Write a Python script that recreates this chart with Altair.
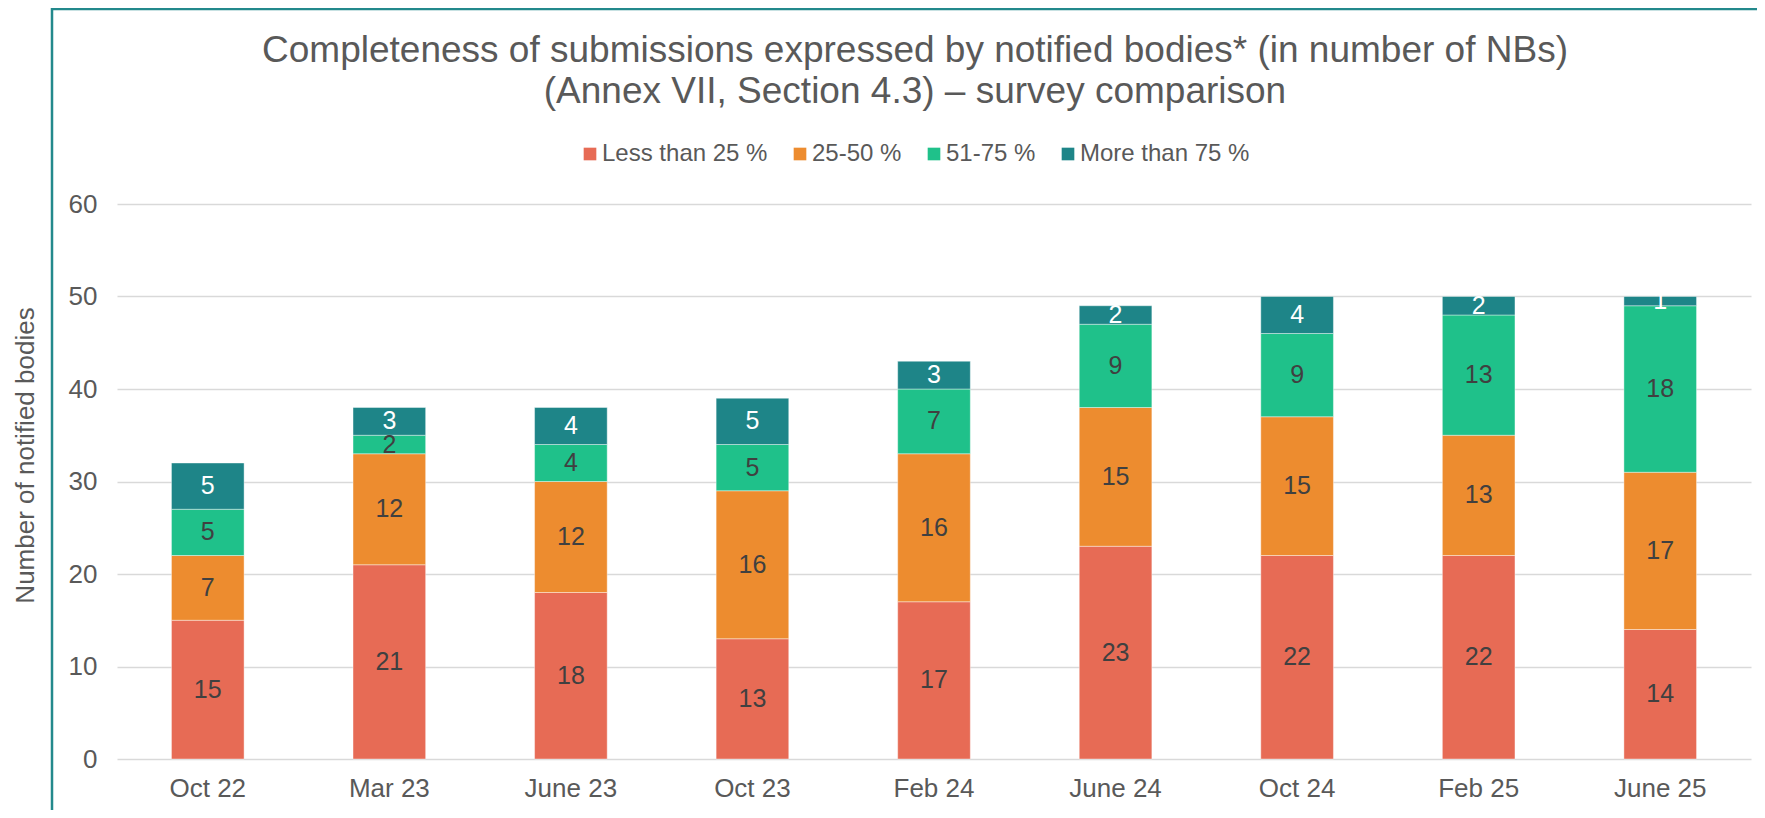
import altair as alt
import pandas as pd

surveys = ["Oct 22", "Mar 23", "June 23", "Oct 23", "Feb 24", "June 24", "Oct 24", "Feb 25", "June 25"]
categories = ["Less than 25 %", "25-50 %", "51-75 %", "More than 75 %"]
less_than_25 = [15, 21, 18, 13, 17, 23, 22, 22, 14]
between_25_50 = [7, 12, 12, 16, 16, 15, 15, 13, 17]
between_51_75 = [5, 2, 4, 5, 7, 9, 9, 13, 18]
more_than_75 = [5, 3, 4, 5, 3, 2, 4, 2, 1]
series = [less_than_25, between_25_50, between_51_75, more_than_75]
colors = ["#E76B55", "#ED8C2F", "#1FC18A", "#1E8588"]
title_lines = [
    "Completeness of submissions expressed by notified bodies* (in number of NBs)",
    "(Annex VII, Section 4.3) \u2013 survey comparison",
]
y_title = "Number of notified bodies"
y_ticks = [0, 10, 20, 30, 40, 50, 60]

rows = []
for ci, (cat, vals) in enumerate(zip(categories, series)):
    for s, v in zip(surveys, vals):
        rows.append({"survey": s, "category": cat, "value": v, "order": ci})
df = pd.DataFrame(rows)

FONT = "Liberation Sans"
GREY = "#595959"
W, H = 1634, 555

x_axis = alt.Axis(
    title=None, labelAngle=0, labelFontSize=26, labelColor=GREY, labelFont=FONT,
    labelPadding=37, labelBaseline="alphabetic", ticks=False, tickSize=0,
    domain=False, grid=False,
)
x_scale = alt.Scale(paddingInner=0.6, paddingOuter=0.3)
y_axis = alt.Axis(
    values=y_ticks, title=y_title, titleFont=FONT, titleFontSize=26,
    titleFontWeight="normal", titleColor=GREY, titleX=-92, titleY=251,
    titleAngle=-90, titleAlign="center", titleBaseline="middle",
    labelFont=FONT, labelFontSize=26, labelColor=GREY, labelPadding=20,
    ticks=False, tickSize=0, domain=False, grid=True,
    gridColor="#D9D9D9", gridWidth=1.5,
)
y_scale = alt.Scale(domain=[0, 60], nice=False)

base = alt.Chart(df).transform_stack(
    stack="value",
    groupby=["survey"],
    sort=[alt.SortField("order", order="ascending")],
    as_=["y0", "y1"],
).transform_calculate(mid="(datum.y0 + datum.y1) / 2")

bars = base.mark_bar(stroke="white", strokeWidth=0.8, strokeOpacity=0.5).encode(
    x=alt.X("survey:N", sort=surveys, scale=x_scale, axis=x_axis),
    y=alt.Y("y0:Q", scale=y_scale, axis=y_axis),
    y2="y1:Q",
    color=alt.Color(
        "category:N",
        scale=alt.Scale(domain=categories, range=colors),
        legend=alt.Legend(
            orient="none", legendX=461, legendY=-62, direction="horizontal",
            title=None, symbolType="square", symbolSize=160, symbolStrokeWidth=0,
            labelFontSize=24, labelFont=FONT, labelColor=GREY, columnPadding=20,
            labelOffset=0, padding=0, labelLimit=0,
        ),
    ),
)

labels = base.mark_text(font=FONT, fontSize=25, baseline="middle", align="center").encode(
    x=alt.X("survey:N", sort=surveys, scale=x_scale, axis=x_axis),
    y=alt.Y("mid:Q", scale=y_scale, axis=y_axis),
    text="value:Q",
    color=alt.condition(
        alt.datum.category == "More than 75 %", alt.value("white"), alt.value("#404040")
    ),
)

t1 = alt.Chart(pd.DataFrame({"t": [title_lines[0]]})).mark_text(
    font=FONT, fontSize=37, color=GREY, align="center", baseline="alphabetic"
).encode(text="t:N", x=alt.value(798), y=alt.value(-142))

t2 = alt.Chart(pd.DataFrame({"t": [title_lines[1]]})).mark_text(
    font=FONT, fontSize=37, color=GREY, align="center", baseline="alphabetic"
).encode(text="t:N", x=alt.value(798), y=alt.value(-101))

frame_df = pd.DataFrame({"a": [0]})
frame_v = alt.Chart(frame_df).mark_rule(color="#23898C", strokeWidth=2.5).encode(
    x=alt.value(-65), y=alt.value(-196), y2=alt.value(606)
)
frame_h = alt.Chart(frame_df).mark_rule(color="#23898C", strokeWidth=2.5).encode(
    x=alt.value(-66), x2=alt.value(1640), y=alt.value(-195)
)

chart = alt.layer(frame_v, frame_h, bars, labels, t1, t2).properties(
    width=W,
    height=H,
    padding={"left": 109, "top": 196, "right": 6, "bottom": 51},
    autosize=alt.AutoSizeParams(type="none"),
).configure_view(strokeWidth=0)

chart.save("out.html", embed_options={"renderer": "svg", "actions": False})
